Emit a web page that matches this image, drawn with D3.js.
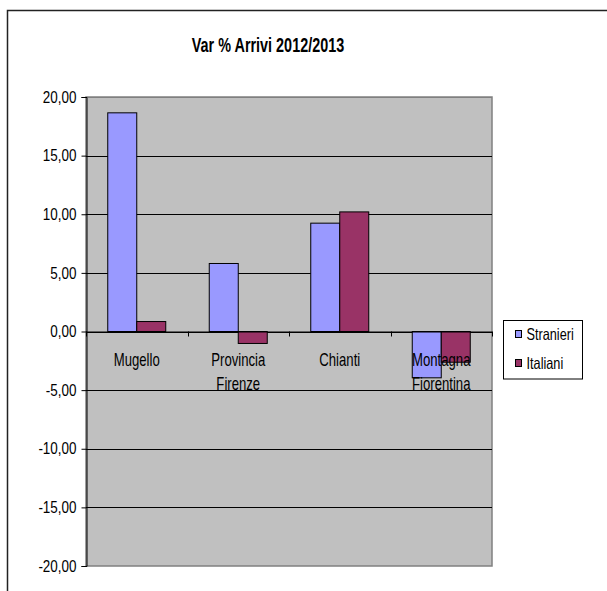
<!DOCTYPE html>
<html><head><meta charset="utf-8">
<script src="https://cdn.jsdelivr.net/npm/d3@7"></script>
<style>html,body{margin:0;padding:0;background:#fff;}svg{display:block;}</style>
</head><body>
<svg id="c" width="607" height="591"></svg>
<script>
const categories = [["Mugello"], ["Provincia", "Firenze"], ["Chianti"], ["Montagna", "Fiorentina"]];
const seriesNames = ["Stranieri", "Italiani"];
const stranieri = [18.65, 5.80, 9.24, -3.95];
const italiani = [0.85, -1.02, 10.2, -2.62];
const yTicks = [20, 15, 10, 5, 0, -5, -10, -15, -20];
const colors = ["#9999FF", "#993366"];
const title = "Var % Arrivi 2012/2013";

const svg = d3.select("#c");
const FONT = "Liberation Sans, Arial, sans-serif";

function narrowText(sel, sx) {
  sel.each(function() {
    const w = this.getComputedTextLength();
    d3.select(this).attr("textLength", w * sx).attr("lengthAdjust", "spacingAndGlyphs");
  });
  return sel;
}

// outer frame
svg.append("rect").attr("x", 7.5).attr("y", 10.5).attr("width", 800).attr("height", 800)
  .attr("fill", "none").attr("stroke", "#222").attr("stroke-width", 1.5);

const L = 86, R = 492, T = 97, B = 566;
const y = d3.scaleLinear().domain([-20, 20]).range([B, T]);
const x = d3.scaleBand().domain(categories.map((d, i) => i)).range([L, R]).paddingInner(0).paddingOuter(0);
const bw = x.bandwidth();
const xs = d3.scaleBand().domain(seriesNames).range([bw * 0.2143, bw * 0.7857]).padding(0);

// plot area
svg.append("rect").attr("x", L).attr("y", T).attr("width", R - L).attr("height", B - T)
  .attr("fill", "#C0C0C0").attr("stroke", "#808080").attr("stroke-width", 1.5);

// gridlines
svg.append("g").selectAll("line").data(yTicks.filter(t => t !== -20)).join("line")
  .attr("x1", L).attr("x2", R).attr("y1", d => Math.round(y(d)) + 0.5).attr("y2", d => Math.round(y(d)) + 0.5)
  .attr("stroke", d => d === 20 ? "#808080" : "#000").attr("stroke-width", 1);

// y axis
const yAxis = d3.axisLeft(y).tickValues(yTicks).tickSize(5).tickPadding(5)
  .tickFormat(d => d3.format(".2f")(d).replace(".", ",").replace("−", "-"));
const gy = svg.append("g").attr("transform", `translate(${L + 0.5},0)`).call(yAxis);
gy.select(".domain").attr("stroke", "#000");
gy.selectAll(".tick line").attr("stroke", "#000");
gy.selectAll(".tick text").attr("font-family", FONT).attr("font-size", 16).attr("fill", "#000");
narrowText(gy.selectAll(".tick text"), 0.84);

// bars
const data = categories.map((c, i) => ({ i, vals: [stranieri[i], italiani[i]] }));
const groups = svg.append("g").selectAll("g").data(data).join("g")
  .attr("transform", d => `translate(${x(d.i)},0)`);
groups.selectAll("rect").data(d => d.vals.map((v, k) => ({ k, v }))).join("rect")
  .attr("x", d => xs(seriesNames[d.k]))
  .attr("width", xs.bandwidth())
  .attr("y", d => y(Math.max(0, d.v)))
  .attr("height", d => Math.abs(y(d.v) - y(0)))
  .attr("fill", d => colors[d.k]).attr("stroke", "#000").attr("stroke-width", 1);

// x axis line and ticks
svg.append("line").attr("x1", L).attr("x2", R).attr("y1", y(0) + 0.5).attr("y2", y(0) + 0.5).attr("stroke", "#000");
svg.append("g").selectAll("line").data(d3.range(categories.length + 1)).join("line")
  .attr("x1", d => Math.round(L + d * bw) + 0.5).attr("x2", d => Math.round(L + d * bw) + 0.5)
  .attr("y1", y(0)).attr("y2", y(0) + 5).attr("stroke", "#000");

// category labels
const cl = svg.append("g").selectAll("text").data(categories).join("text")
  .attr("text-anchor", "middle").attr("font-family", FONT).attr("font-size", 18.5).attr("fill", "#000")
  .attr("transform", (d, i) => `translate(${x(i) + bw / 2},365.5)`);
cl.selectAll("tspan").data(d => d).join("tspan")
  .attr("x", 0).attr("y", (d, j) => j * 24).text(d => d);
cl.selectAll("tspan").each(function() {
  const w = this.getComputedTextLength();
  d3.select(this).attr("textLength", w * 0.71).attr("lengthAdjust", "spacingAndGlyphs");
});

// title
const tt = svg.append("text").attr("x", 268).attr("y", 52).attr("text-anchor", "middle")
  .attr("font-family", FONT).attr("font-size", 20).attr("font-weight", "bold").attr("fill", "#000").text(title);
narrowText(tt, 0.72);

// legend
const lg = svg.append("g");
lg.append("rect").attr("x", 503.5).attr("y", 320.5).attr("width", 79).attr("height", 58.5)
  .attr("fill", "#fff").attr("stroke", "#000").attr("stroke-width", 1);
const li = lg.selectAll("g").data(seriesNames).join("g")
  .attr("transform", (d, i) => `translate(0,${334 + i * 29})`);
li.append("rect").attr("x", 515.5).attr("y", -3.5).attr("width", 6).attr("height", 7)
  .attr("fill", (d, i) => colors[i]).attr("stroke", "#000").attr("stroke-width", 1);
const lt = li.append("text").attr("x", 526.5).attr("y", 6).attr("font-family", FONT).attr("font-size", 16.5)
  .attr("fill", "#000").text(d => d);
narrowText(lt, 0.77);
</script>
</body></html>
